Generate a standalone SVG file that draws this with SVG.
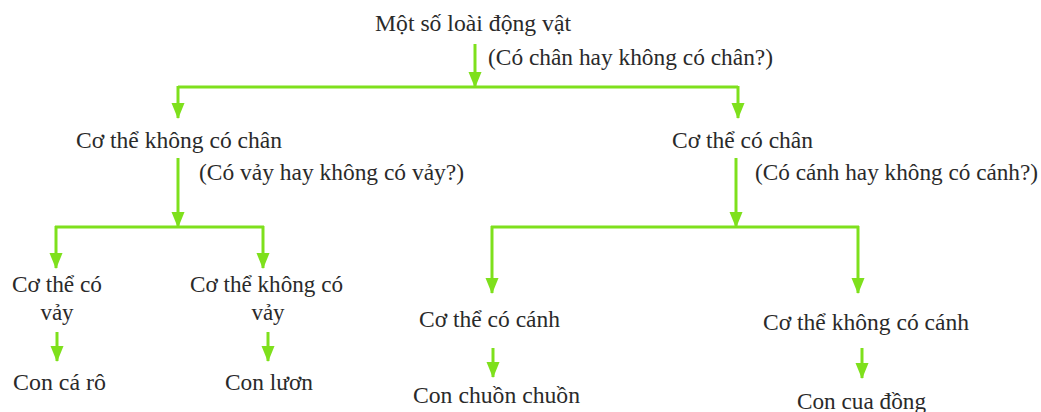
<svg xmlns="http://www.w3.org/2000/svg" width="1041" height="412" viewBox="0 0 1041 412">
<defs>
<marker id="ah" markerUnits="userSpaceOnUse" markerWidth="16" markerHeight="14" refX="15" refY="6.5" orient="auto" viewBox="0 0 16 13">
<path d="M0,0 L16,6.5 L0,13 Z" fill="#7ee01c"/>
</marker>
<style>
text{font-family:"Liberation Serif","Times New Roman",serif;font-size:23px;fill:#2a2a2a;}
.c{stroke:#7ee01c;stroke-width:3;fill:none;}
</style>
</defs>
<rect width="1041" height="412" fill="#fff"/>
<g id="connectors">
<line class="c" x1="475" y1="44" x2="475" y2="87" marker-end="url(#ah)"/>
<path class="c" d="M178,87 H738"/>
<line class="c" x1="178" y1="86" x2="178" y2="118" marker-end="url(#ah)"/>
<line class="c" x1="738" y1="86" x2="738" y2="118" marker-end="url(#ah)"/>
<line class="c" x1="178" y1="158" x2="178" y2="227" marker-end="url(#ah)"/>
<path class="c" d="M55,227 H264"/>
<line class="c" x1="56" y1="226" x2="56" y2="268" marker-end="url(#ah)"/>
<line class="c" x1="263" y1="226" x2="263" y2="268" marker-end="url(#ah)"/>
<line class="c" x1="736" y1="158" x2="736" y2="227" marker-end="url(#ah)"/>
<path class="c" d="M491,227 H859"/>
<line class="c" x1="492" y1="226" x2="492" y2="293" marker-end="url(#ah)"/>
<line class="c" x1="858" y1="226" x2="858" y2="293" marker-end="url(#ah)"/>
<line class="c" x1="57" y1="332" x2="57" y2="361" marker-end="url(#ah)"/>
<line class="c" x1="268" y1="332" x2="268" y2="361" marker-end="url(#ah)"/>
<line class="c" x1="493" y1="348" x2="493" y2="377" marker-end="url(#ah)"/>
<line class="c" x1="862" y1="348" x2="862" y2="378" marker-end="url(#ah)"/>
</g>
<g id="root"><text x="375" y="31" textLength="196" lengthAdjust="spacingAndGlyphs">Một số loài động vật</text></g>
<g id="q1"><text x="488" y="65" textLength="285" lengthAdjust="spacingAndGlyphs">(Có chân hay không có chân?)</text></g>
<g id="khong-chan"><text x="76" y="148" textLength="206" lengthAdjust="spacingAndGlyphs">Cơ thể không có chân</text></g>
<g id="q2"><text x="199" y="180" textLength="265" lengthAdjust="spacingAndGlyphs">(Có vảy hay không có vảy?)</text></g>
<g id="co-chan"><text x="672" y="148" textLength="141" lengthAdjust="spacingAndGlyphs">Cơ thể có chân</text></g>
<g id="q3"><text x="755" y="180" textLength="283" lengthAdjust="spacingAndGlyphs">(Có cánh hay không có cánh?)</text></g>
<g id="co-vay"><text x="12" y="292" textLength="90" lengthAdjust="spacingAndGlyphs">Cơ thể có</text><text x="57" y="320" text-anchor="middle">vảy</text></g>
<g id="khong-vay"><text x="190" y="292" textLength="153" lengthAdjust="spacingAndGlyphs">Cơ thể không có</text><text x="268" y="320" text-anchor="middle">vảy</text></g>
<g id="co-canh"><text x="419" y="327" textLength="141" lengthAdjust="spacingAndGlyphs">Cơ thể có cánh</text></g>
<g id="khong-canh"><text x="763" y="330" textLength="206" lengthAdjust="spacingAndGlyphs">Cơ thể không có cánh</text></g>
<g id="ca-ro"><text x="13" y="390" textLength="93" lengthAdjust="spacingAndGlyphs">Con cá rô</text></g>
<g id="luon"><text x="225" y="390" textLength="88" lengthAdjust="spacingAndGlyphs">Con lươn</text></g>
<g id="chuon"><text x="413" y="403" textLength="167" lengthAdjust="spacingAndGlyphs">Con chuồn chuồn</text></g>
<g id="cua"><text x="797" y="409" textLength="129" lengthAdjust="spacingAndGlyphs">Con cua đồng</text></g>
</svg>
